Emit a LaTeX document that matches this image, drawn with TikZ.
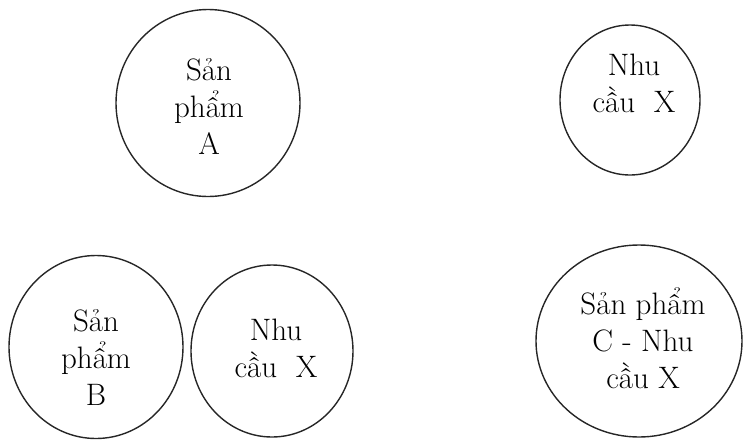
\documentclass[tikz,border=0pt]{standalone}
\usepackage{fontspec}
\usetikzlibrary{shapes.geometric}
\tikzset{
  ring/.style={draw=black!85, line width=1.4pt, ellipse, inner sep=0pt},
  lbl/.style={align=center, inner sep=0pt, font=\fontsize{31}{37}\selectfont}
}
\begin{document}
\begin{tikzpicture}[x=1pt,y=-1pt]
\useasboundingbox (0,0) rectangle (750,445);
% circles
\node[ring, minimum width=184pt, minimum height=187pt] (cA) at (208,103) {};
\node[ring, minimum width=140pt, minimum height=150pt] (cX1) at (630,100) {};
\node[ring, minimum width=174pt, minimum height=183pt] (cB) at (96,347) {};
\node[ring, minimum width=162pt, minimum height=172pt] (cX2) at (272,351) {};
\node[ring, minimum width=206pt, minimum height=192pt] (cC) at (639,341) {};
% labels
\node[lbl] (tA) at (209,106) {Sản\\phẩm\\A};
\node[lbl] (tX1) at (634,83) {Nhu\\cầu\ \ X};
\node[lbl] (tB) at (96,357) {Sản\\phẩm\\B};
\node[lbl] (tX2) at (276,348) {Nhu\\cầu\ \ X};
\node[lbl] (tC) at (643,338) {Sản phẩm\\C - Nhu\\cầu X};
\end{tikzpicture}
\end{document}
